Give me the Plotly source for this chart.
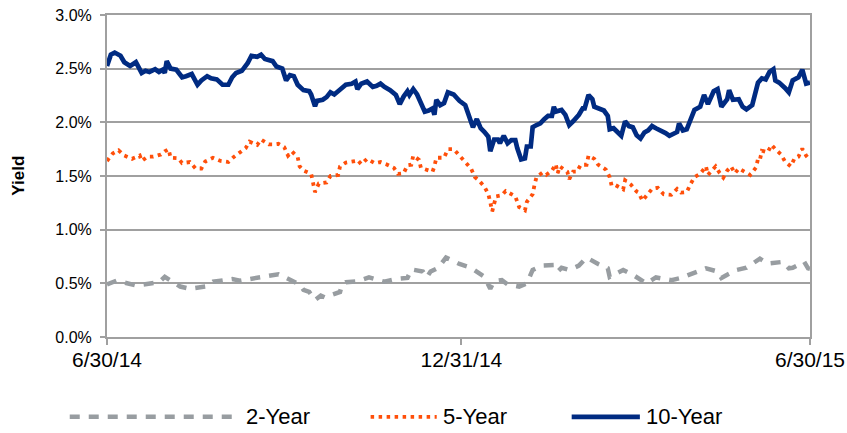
import pandas as pd
import plotly.graph_objects as go

BASE = pd.Timestamp("2014-06-30")

# ---- 10-Year (day offset from 6/30/14, yield %) ----
ten_days = [0, 2, 4, 7, 9, 12, 15, 18, 20, 22, 25, 27, 29, 30, 31, 33, 36, 39, 41, 44,
            47, 49, 52, 54, 57, 60, 63, 65, 67, 70, 73, 75, 78, 80, 82, 85, 86, 88, 91, 93,
            95, 97, 99, 102, 105, 106, 108, 109, 112, 114, 116, 118, 121, 124, 127, 129, 130, 132, 135, 138,
            140, 142, 144, 147, 150, 152, 154, 156, 157, 159, 161, 163, 165, 167, 169, 170, 171, 173, 175, 177,
            180, 182, 183, 186, 188, 190, 192, 194, 196, 198, 199, 201, 203, 204, 206, 208, 210, 212, 213, 215,
            217, 218, 220, 221, 223, 225, 227, 229, 231, 232, 233, 236, 238, 240, 242, 245, 247, 248, 250, 252,
            253, 255, 258, 260, 261, 263, 265, 267, 269, 271, 273, 275, 277, 279, 281, 283, 285, 287, 290, 292,
            294, 296, 297, 299, 301, 303, 305, 308, 310, 312, 314, 315, 317, 319, 322, 323, 325, 328, 330, 332,
            335, 336, 338, 340, 342, 344, 346, 347, 349, 352, 354, 356, 359, 361, 363, 365]
ten_year = [2.525, 2.63, 2.65, 2.62, 2.56, 2.525, 2.56, 2.46, 2.48, 2.47, 2.495, 2.47, 2.49, 2.46, 2.57, 2.50, 2.49, 2.42, 2.43, 2.45,
            2.35, 2.39, 2.43, 2.41, 2.40, 2.35, 2.35, 2.42, 2.46, 2.48, 2.55, 2.62, 2.61, 2.63, 2.59, 2.57, 2.57, 2.52, 2.50, 2.39,
            2.44, 2.43, 2.35, 2.30, 2.29, 2.26, 2.15, 2.20, 2.21, 2.235, 2.28, 2.26, 2.31, 2.35, 2.36, 2.38, 2.31, 2.36, 2.38, 2.33,
            2.34, 2.36, 2.33, 2.30, 2.255, 2.17, 2.24, 2.29, 2.255, 2.31, 2.26, 2.18, 2.10, 2.11, 2.13, 2.07, 2.21, 2.16, 2.18, 2.28,
            2.26, 2.22, 2.20, 2.16, 2.07, 1.955, 2.03, 1.945, 1.91, 1.865, 1.73, 1.84, 1.84, 1.805, 1.875, 1.805, 1.835, 1.835, 1.76, 1.655,
            1.665, 1.775, 1.775, 1.955, 1.975, 1.99, 2.03, 2.06, 2.06, 2.145, 2.10, 2.115, 2.07, 1.975, 2.01, 2.07, 2.13, 2.13, 2.255, 2.215,
            2.145, 2.13, 2.11, 2.06, 1.935, 1.945, 1.91, 1.875, 2.01, 1.965, 1.955, 1.88, 1.85, 1.905, 1.925, 1.965, 1.945, 1.93, 1.90, 1.875,
            1.89, 1.91, 1.99, 1.925, 1.935, 2.04, 2.115, 2.145, 2.255, 2.17, 2.24, 2.29, 2.31, 2.145, 2.215, 2.30, 2.21, 2.215, 2.145, 2.12,
            2.16, 2.225, 2.37, 2.41, 2.40, 2.47, 2.495, 2.39, 2.37, 2.32, 2.28, 2.39, 2.42, 2.49, 2.36, 2.37]

# ---- 5-Year ----
five_days = [0, 3, 6, 9, 13, 17, 18, 21, 24, 28, 30, 32, 33, 37, 39, 43, 46, 49, 51, 55,
             59, 63, 66, 68, 72, 74, 78, 80, 84, 87, 89, 92, 94, 96, 99, 100, 102, 106, 107, 108,
             110, 114, 116, 120, 121, 124, 129, 130, 132, 135, 139, 142, 145, 149, 151, 154, 156, 158, 159, 162,
             163, 166, 169, 170, 171, 175, 177, 180, 183, 186, 189, 191, 193, 196, 198, 199, 200, 202, 205, 207,
             209, 212, 214, 217, 218, 221, 222, 223, 226, 228, 231, 233, 234, 235, 239, 240, 242, 244, 246, 249,
             250, 253, 255, 259, 261, 262, 264, 268, 269, 272, 275, 276, 278, 280, 283, 286, 289, 293, 296, 298,
             301, 303, 305, 308, 311, 312, 314, 316, 318, 320, 322, 324, 326, 328, 331, 334, 337, 338, 339, 340,
             343, 345, 347, 350, 352, 355, 357, 359, 361, 363, 365]
five_year = [1.64, 1.71, 1.74, 1.69, 1.66, 1.69, 1.64, 1.68, 1.68, 1.70, 1.73, 1.75, 1.67, 1.665, 1.62, 1.63, 1.57, 1.57, 1.635, 1.67,
             1.64, 1.63, 1.68, 1.705, 1.76, 1.82, 1.79, 1.84, 1.795, 1.795, 1.80, 1.77, 1.69, 1.73, 1.675, 1.59, 1.55, 1.52, 1.44, 1.35,
             1.43, 1.44, 1.50, 1.51, 1.59, 1.625, 1.64, 1.65, 1.61, 1.66, 1.62, 1.63, 1.61, 1.575, 1.52, 1.525, 1.60, 1.605, 1.69, 1.65,
             1.575, 1.56, 1.54, 1.59, 1.67, 1.67, 1.75, 1.75, 1.69, 1.63, 1.57, 1.49, 1.46, 1.40, 1.33, 1.255, 1.17, 1.31, 1.32, 1.36,
             1.34, 1.31, 1.21, 1.18, 1.26, 1.33, 1.42, 1.49, 1.53, 1.51, 1.55, 1.61, 1.525, 1.59, 1.54, 1.47, 1.54, 1.54, 1.605, 1.605,
             1.69, 1.66, 1.605, 1.56, 1.49, 1.41, 1.415, 1.375, 1.46, 1.42, 1.355, 1.345, 1.27, 1.31, 1.38, 1.39, 1.33, 1.325, 1.38, 1.345,
             1.35, 1.425, 1.49, 1.52, 1.59, 1.51, 1.555, 1.59, 1.53, 1.485, 1.55, 1.59, 1.525, 1.57, 1.54, 1.51, 1.58, 1.66, 1.65, 1.735,
             1.72, 1.79, 1.75, 1.70, 1.635, 1.59, 1.665, 1.68, 1.755, 1.69, 1.645]

# ---- 2-Year ----
two_days = [0, 5, 15, 18, 27, 30, 38, 43, 51, 55, 65, 69, 78, 82, 89, 92, 100, 102, 105, 108,
            111, 113, 121, 122, 124, 130, 136, 144, 150, 156, 158, 164, 166, 168, 172, 176, 183, 189, 196, 199,
            201, 205, 208, 214, 218, 221, 226, 232, 234, 236, 240, 245, 249, 255, 260, 261, 268, 273, 280, 285,
            293, 298, 305, 311, 317, 319, 322, 327, 332, 339, 343, 351, 354, 356, 362, 364, 365]
two_year = [0.49, 0.525, 0.48, 0.49, 0.51, 0.56, 0.47, 0.45, 0.47, 0.515, 0.54, 0.525, 0.555, 0.57, 0.585, 0.56, 0.49, 0.44, 0.42, 0.345,
            0.385, 0.37, 0.42, 0.49, 0.51, 0.52, 0.555, 0.515, 0.54, 0.55, 0.63, 0.61, 0.555, 0.61, 0.645, 0.74, 0.68, 0.645, 0.56, 0.45,
            0.52, 0.53, 0.49, 0.47, 0.50, 0.625, 0.665, 0.67, 0.61, 0.645, 0.625, 0.665, 0.74, 0.68, 0.64, 0.56, 0.625, 0.58, 0.50, 0.555,
            0.53, 0.55, 0.595, 0.64, 0.61, 0.55, 0.58, 0.625, 0.645, 0.73, 0.685, 0.70, 0.64, 0.645, 0.70, 0.64, 0.635]

tick_dates = ["2014-06-30", "2014-12-31", "2015-06-30"]
tick_labels = ["6/30/14", "12/31/14", "6/30/15"]
y_ticks = [0, 0.5, 1.0, 1.5, 2.0, 2.5, 3.0]
y_labels = ["0.0%", "0.5%", "1.0%", "1.5%", "2.0%", "2.5%", "3.0%"]
series_names = ["2-Year", "5-Year", "10-Year"]

C2, C5, C10 = "#989DA1", "#FF4F0A", "#002B82"
DASH2, DASH5 = "10px,9px", "3.5px,4.5px"
W2, W5, W10 = 4.5, 3.8, 4.7


def to_dates(days):
    return BASE + pd.to_timedelta(days, unit="D")


fig = go.Figure()
fig.add_trace(go.Scatter(x=to_dates(two_days), y=two_year, mode="lines", name=series_names[0],
                         line=dict(color=C2, width=W2, dash=DASH2)))
fig.add_trace(go.Scatter(x=to_dates(five_days), y=five_year, mode="lines", name=series_names[1],
                         line=dict(color=C5, width=W5, dash=DASH5)))
fig.add_trace(go.Scatter(x=to_dates(ten_days), y=ten_year, mode="lines", name=series_names[2],
                         line=dict(color=C10, width=W10)))

FONT = "Liberation Sans Narrow, Arial Narrow, Liberation Sans, Arial, sans-serif"
GRID = "#A0A0A0"

fig.update_layout(
    width=847, height=433,
    margin=dict(l=107, r=37, t=15, b=96, autoexpand=False),
    paper_bgcolor="white", plot_bgcolor="white",
    showlegend=False,
    font=dict(family=FONT, size=21, color="#000000"),
    xaxis=dict(type="date", range=[tick_dates[0], tick_dates[-1]],
               tickvals=tick_dates, ticktext=tick_labels,
               showgrid=False, showline=True, linecolor=GRID, linewidth=2, mirror=True,
               ticks="outside", ticklen=6, tickwidth=1.5, tickcolor=GRID,
               tickfont=dict(size=21), zeroline=False, automargin=False,
               ticklabelstandoff=-3),
    yaxis=dict(range=[0, 3.0], tickvals=y_ticks, ticktext=y_labels,
               showgrid=True, gridcolor=GRID, gridwidth=2,
               showline=True, linecolor=GRID, linewidth=2, mirror=True,
               ticks="outside", ticklen=5, tickwidth=1.5, tickcolor=GRID,
               tickfont=dict(size=16), zeroline=False, automargin=False,
               ticklabelstandoff=5),
)

# y-axis title
fig.add_annotation(text="<b>Yield</b>", xref="paper", yref="paper", x=-0.127, y=0.5,
                   xanchor="center", yanchor="middle",
                   textangle=-90, showarrow=False, font=dict(size=17, family="Liberation Sans, Arial"))

# custom legend (long line samples like the original)
legend_items = [
    (series_names[0], C2, W2, DASH2, -0.053, 0.189),
    (series_names[1], C5, W5, DASH5, 0.375, 0.469),
    (series_names[2], C10, W10, "solid", 0.661, 0.758),
]
LY = -0.248
for name, col, w, dash, x0, x1 in legend_items:
    fig.add_shape(type="line", xref="paper", yref="paper", x0=x0, x1=x1, y0=LY, y1=LY,
                  line=dict(color=col, width=w, dash=dash))
    fig.add_annotation(text=name, xref="paper", yref="paper", x=x1 + 0.006, y=LY,
                       xanchor="left", yanchor="middle", showarrow=False,
                       font=dict(size=22))

fig.write_html("out.html", config={"displayModeBar": False},
               post_script="document.body.style.margin='0';")
